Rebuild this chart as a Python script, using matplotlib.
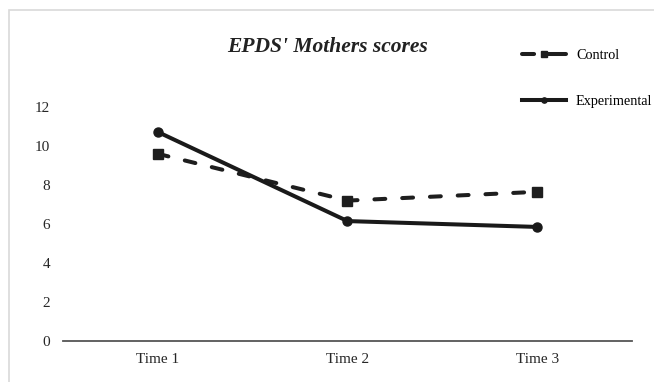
import matplotlib.pyplot as plt
from matplotlib.patches import Rectangle

# data
times = ['Time 1', 'Time 2', 'Time 3']
control = [9.6, 7.2, 7.65]
experimental = [10.72, 6.15, 5.85]

plt.rcParams['font.family'] = ['Liberation Serif', 'DejaVu Serif']

fig = plt.figure(figsize=(6.54, 3.82), dpi=100)
ax = fig.add_axes([0.0963, 0.1073, 0.870, 0.6126])

# light frame around chart area (only left/top edges visible)
fig.patches.append(Rectangle((9 / 654, -0.2), 1.5, 1.2 - 10 / 382, transform=fig.transFigure,
                             fill=False, edgecolor='#d9d9d9', linewidth=1.2, zorder=0))

x = list(range(1, len(times) + 1))
ax.plot(x, control, color='#1e1e1e', lw=2.9, dashes=(2.7, 4.2), dash_capstyle='round',
        marker='s', ms=6.5, label='Control')
ax.plot(x, experimental, color='#1a1a1a', lw=2.9, marker='o', ms=6.5, label='Experimental')

ax.set_xlim(0.5, 3.5)
ax.set_ylim(0, 12)
ax.set_yticks(range(0, 13, 2))
ax.set_xticks(x)
ax.set_xticklabels(times)
ax.tick_params(axis='both', length=0, labelsize=11, colors='#262626')
ax.tick_params(axis='y', pad=9.4)
ax.tick_params(axis='x', pad=8.5)
for s in ['top', 'right', 'left']:
    ax.spines[s].set_visible(False)
ax.spines['bottom'].set_color('#555555')
ax.spines['bottom'].set_linewidth(1.3)

fig.text(0.5015, 0.878, "EPDS' Mothers scores", ha='center', va='center',
         fontsize=15.5, fontweight='bold', fontstyle='italic', color='#222222')

leg = fig.legend(loc='upper left', bbox_to_anchor=(522 / 654, 0.872), frameon=False,
                 fontsize=10.3, handlelength=3.08, handletextpad=0.7, labelspacing=2.3,
                 borderaxespad=0, borderpad=0)
for h in leg.legend_handles:
    h.set_markersize(3.8)
# short dash, gap, then marker + longer dash, like the original key
leg.legend_handles[0].set_dashes((3.0, 2.6, 5.5, 2.6))

fig.savefig('out.png', dpi=100)
